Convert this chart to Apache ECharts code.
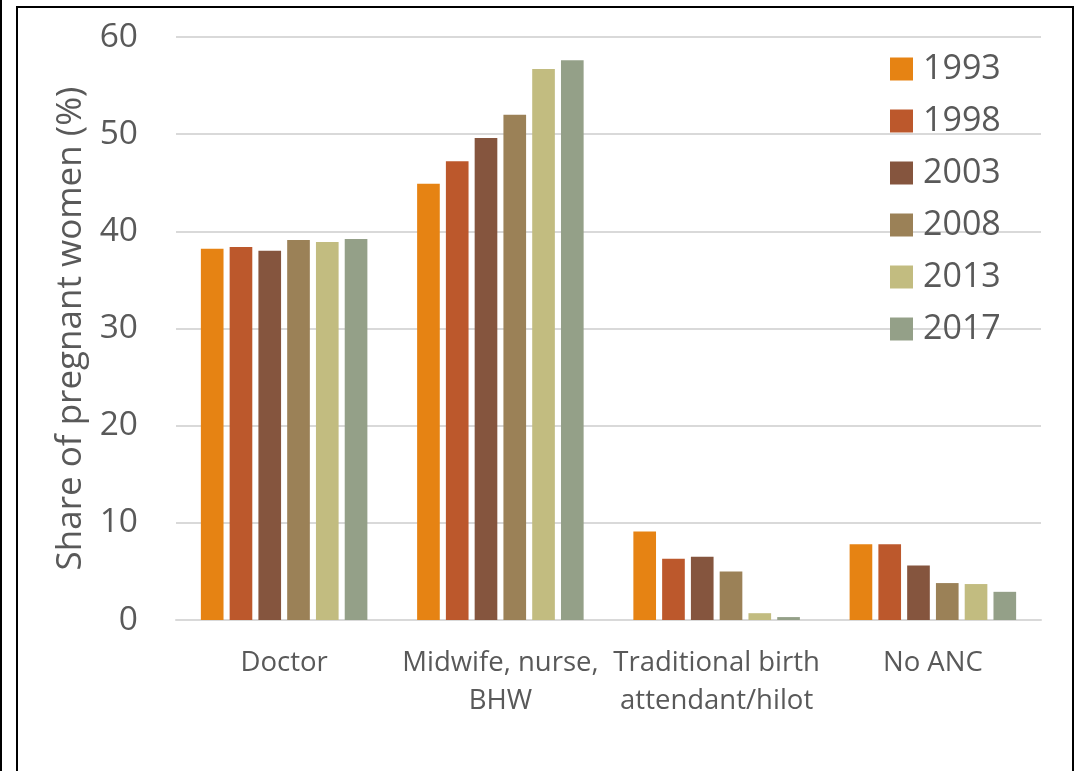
<!DOCTYPE html>
<html>
<head>
<meta charset="utf-8">
<script src="https://cdn.jsdelivr.net/npm/echarts@6/dist/echarts.min.js"></script>
<style>
  html, body { margin: 0; padding: 0; background: #ffffff; }
  #chart { width: 1077px; height: 771px; }
</style>
</head>
<body>
<div id="chart"></div>
<script>
// Antenatal care provider categories
const categories = ['Doctor', 'Midwife, nurse,\nBHW', 'Traditional birth\nattendant/hilot', 'No ANC'];

// Survey years, one series each
const years = ['1993', '1998', '2003', '2008', '2013', '2017'];

// Share of pregnant women (%) by provider, per survey year
const v1993 = [38.2, 44.9, 9.1, 7.8];
const v1998 = [38.4, 47.2, 6.3, 7.8];
const v2003 = [38.0, 49.6, 6.5, 5.6];
const v2008 = [39.1, 52.0, 5.0, 3.8];
const v2013 = [38.9, 56.7, 0.7, 3.7];
const v2017 = [39.2, 57.6, 0.3, 2.9];

const yTicks = [0, 10, 20, 30, 40, 50, 60];

const seriesValues = [v1993, v1998, v2003, v2008, v2013, v2017];
const colors = ['#E68313', '#BC582C', '#85553E', '#9B8157', '#C2BC80', '#94A088'];

const FONT = '"Open Sans", "DejaVu Sans", sans-serif';
const TEXT = '#595959';

const chart = echarts.init(document.getElementById('chart'), null, { renderer: 'canvas' });

chart.setOption({
  animation: false,
  backgroundColor: '#ffffff',
  textStyle: { fontFamily: FONT },
  grid: { left: 176, right: 36, top: 37, bottom: 151, containLabel: false },
  legend: {
    orient: 'vertical',
    left: 890,
    top: 52,
    padding: 0,
    itemWidth: 23,
    itemHeight: 23,
    itemGap: 18,
    icon: 'rect',
    textStyle: { fontFamily: FONT, fontSize: 34, color: TEXT, padding: [0, 0, 0, 5] },
    data: years
  },
  xAxis: {
    type: 'category',
    data: categories,
    axisLine: { show: true, lineStyle: { color: '#d9d9d9', width: 2 } },
    axisTick: { show: false },
    axisLabel: { fontFamily: FONT, fontSize: 27.5, color: TEXT, margin: 24, lineHeight: 38, interval: 0 }
  },
  yAxis: {
    type: 'value',
    min: yTicks[0],
    max: yTicks[yTicks.length - 1],
    interval: 10,
    name: 'Share of pregnant women (%)',
    nameLocation: 'middle',
    nameGap: 84,
    nameTextStyle: { fontFamily: FONT, fontSize: 35, color: TEXT },
    axisLine: { show: false },
    axisTick: { show: false },
    splitLine: { lineStyle: { color: '#d9d9d9', width: 2 } },
    axisLabel: { fontFamily: FONT, fontSize: 33.5, color: TEXT, margin: 38 }
  },
  series: years.map((y, i) => ({
    name: y,
    type: 'bar',
    data: seriesValues[i],
    barGap: '27%',
    barCategoryGap: '23%',
    itemStyle: { color: colors[i] }
  })),
  graphic: [
    { type: 'line', shape: { x1: 1, y1: 0, x2: 1, y2: 771 }, style: { stroke: '#000', lineWidth: 2 } },
    { type: 'rect', shape: { x: 17, y: 7, width: 1056, height: 800 }, style: { fill: null, stroke: '#000', lineWidth: 2 } }
  ]
});
</script>
</body>
</html>
